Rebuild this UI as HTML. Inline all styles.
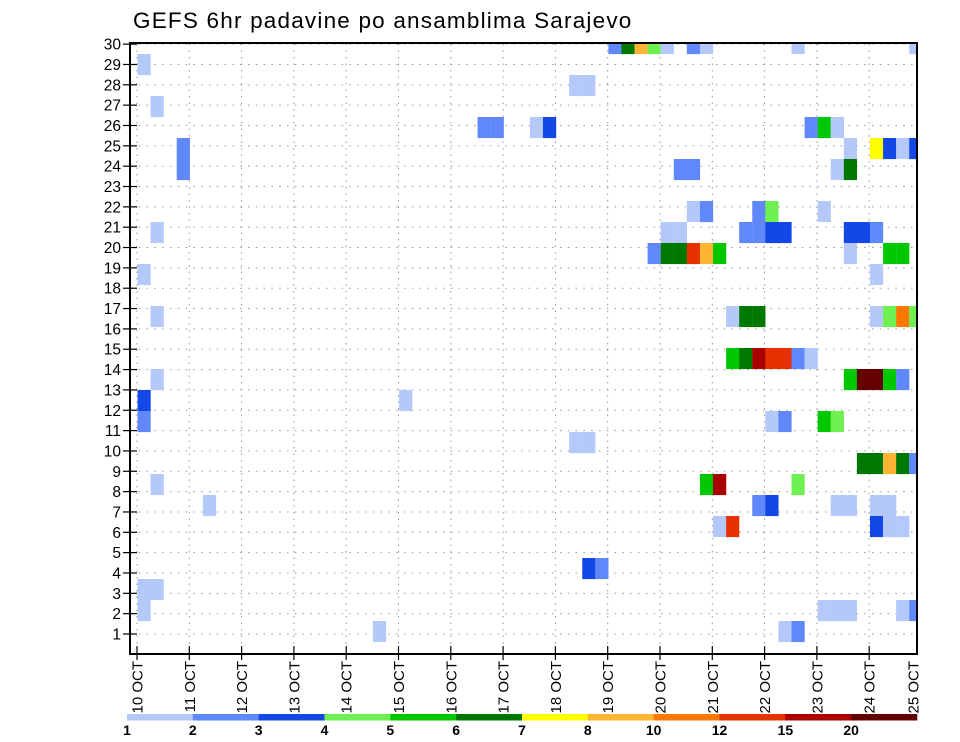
<!DOCTYPE html>
<html><head><meta charset="utf-8"><style>
html,body{margin:0;padding:0;background:#fff;}
svg{display:block;font-family:"Liberation Sans",sans-serif;}
</style></head><body>
<svg id="chart" width="960" height="742" viewBox="0 0 960 742">
<defs><clipPath id="plotclip"><rect x="130" y="43" width="787" height="611"/></clipPath></defs>
<text x="133" y="28" font-size="22.5" letter-spacing="1.2" fill="#000">GEFS 6hr padavine po ansamblima Sarajevo</text>
<g id="grid"></g>
<g id="cells" clip-path="url(#plotclip)"></g>
<rect x="130" y="43" width="787" height="611" fill="none" stroke="#000" stroke-width="2"/>
<g id="axes"></g>
<g id="colorbar"></g>
</svg>
<script>
const members = [30,30,30,30,30,30,30,30,30, 29, 28,28, 27, 26,26,26,26,26,26,26, 25,25,25,25,25,25, 24,24,24,24,24, 22,22,22,22,22, 21,21,21,21,21,21,21,21,21,21, 20,20,20,20,20,20,20,20,20, 19,19, 17,17,17,17,17,17,17,17, 15,15,15,15,15,15,15, 14,14,14,14,14,14, 13,13, 12,12,12,12,12, 11,11, 10,10,10,10,10, 9,9,9,9, 8,8,8,8,8,8,8, 7,7,7,7,7, 5,5, 4,4, 3,3,3,3,3,3, 2,2,2];
const steps = [36,37,38,39,40,42,43,50,59, 0, 33,34, 1, 26,27,30,31,51,52,53, 3,54,56,57,58,59, 3,41,42,53,54, 42,43,47,48,52, 1,40,41,46,47,48,49,54,55,56, 39,40,41,42,43,44,54,57,58, 0,56, 1,45,46,47,56,57,58,59, 45,46,47,48,49,50,51, 1,54,55,56,57,58, 0,20, 0,48,49,52,53, 33,34, 55,56,57,58,59, 1,43,44,50, 5,47,48,53,54,56,57, 44,45,56,57,58, 34,35, 0,1, 0,52,53,54,58,59, 18,49,50];
const values = [2.5,6.5,9,4.5,1.5,2.5,1.5,1.5,1.5, 1.5, 1.5,1.5, 1.5, 2.5,2.5,1.5,3.5,2.5,5.5,1.5, 2.5,1.5,7.5,3.5,1.5,3.5, 2.5,2.5,2.5,1.5,6.5, 1.5,2.5,2.5,4.5,1.5, 1.5,1.5,1.5,2.5,2.5,3.5,3.5,3.5,3.5,2.5, 2.5,6.5,6.5,13,9,5.5,1.5,5.5,5.5, 1.5,1.5, 1.5,1.5,6.5,6.5,1.5,4.5,11,4.5, 5.5,6.5,17,13,13,2.5,1.5, 1.5,5.5,22,22,5.5,2.5, 3.5,1.5, 2.5,1.5,2.5,5.5,4.5, 1.5,1.5, 6.5,6.5,9,6.5,2.5, 1.5,5.5,17,4.5, 1.5,2.5,3.5,1.5,1.5,1.5,1.5, 1.5,13,3.5,1.5,1.5, 3.5,2.5, 1.5,1.5, 1.5,1.5,1.5,1.5,1.5,2.5, 1.5,1.5,2.5];
const thresholds = [1,2,3,4,5,6,7,8,10,12,15,20];
const colors = ["#b4c8fa","#6088fa","#1448e6","#6ef050","#00c800","#007800","#ffff00","#ffb432","#ff7800","#e63200","#aa0000","#640000"];
const dayLabels = ["10 OCT","11 OCT","12 OCT","13 OCT","14 OCT","15 OCT","16 OCT","17 OCT","18 OCT","19 OCT","20 OCT","21 OCT","22 OCT","23 OCT","24 OCT","25 OCT"];
const yTicks = [1,2,3,4,5,6,7,8,9,10,11,12,13,14,15,16,17,18,19,20,21,22,23,24,25,26,27,28,29,30];

const NS = "http://www.w3.org/2000/svg";
function mk(tag, attrs, parent){const e=document.createElementNS(NS,tag);for(const k in attrs)e.setAttribute(k,attrs[k]);parent.appendChild(e);return e;}
function xDay(d){return 137 + d*52.3;}
function xStep(k){return 137.5 + k*13.08;}
function yLabel(n){return 634 - (n-1)*20.34;}
function yCell(m){return 33 + (30-m)*21;}
function colorOf(v){let i=0;for(let j=0;j<thresholds.length;j++){if(v>=thresholds[j])i=j;}return colors[i];}

const grid=document.getElementById('grid');
yTicks.forEach(n=>{
  const l=mk('line',{x1:131,x2:916,y1:yLabel(n),y2:yLabel(n),stroke:'#999','stroke-width':1,'stroke-dasharray':'1.5 6.3'},grid);
  
  
});
dayLabels.forEach((s,d)=>{
  const x=xDay(d); if(x>916) return;
  const l=mk('line',{x1:x,x2:x,y1:44,y2:653,stroke:'#999','stroke-width':1,'stroke-dasharray':'1.5 5'},grid);
  
  
});

const cells=document.getElementById('cells');
members.forEach((m,i)=>{
  const r=mk('rect',{x:xStep(steps[i]),y:yCell(m),width:13.2,height:21.1,fill:colorOf(values[i])},cells);
  
  
});

const axes=document.getElementById('axes');
yTicks.forEach(n=>{
  const y=yLabel(n);
  const t=mk('line',{x1:123,x2:137,y1:y,y2:y,stroke:'#000','stroke-width':1.2},axes);
  
  
  const tx=mk('text',{x:121,y:y+5.5,'font-size':15.5,'text-anchor':'end',fill:'#000'},axes);
  tx.textContent=n;
  
  
});
dayLabels.forEach((s,d)=>{
  let x=xDay(d);
  if(d<15){
    const t=mk('line',{x1:x,x2:x,y1:646,y2:660,stroke:'#000','stroke-width':1.2},axes);
    
    
  } else x=913;
  const tx=mk('text',{x:0,y:0,'font-size':15,'text-anchor':'end',fill:'#000',transform:'translate('+(x+5.5)+',661) rotate(-90)'},axes);
  tx.textContent=s;
  
  
});

const cb=document.getElementById('colorbar');
const segW=(917-127)/12;
colors.forEach((c,i)=>{
  const r=mk('rect',{x:127+i*segW,y:714,width:segW+0.3,height:6.5,fill:c},cb);
  
  
});
thresholds.forEach((v,i)=>{
  const t=mk('text',{x:127+i*segW,y:735,'font-size':14,'font-weight':'bold','text-anchor':'middle',fill:'#000'},cb);
  t.textContent=v;
  
  
});
</script>
</body></html>
